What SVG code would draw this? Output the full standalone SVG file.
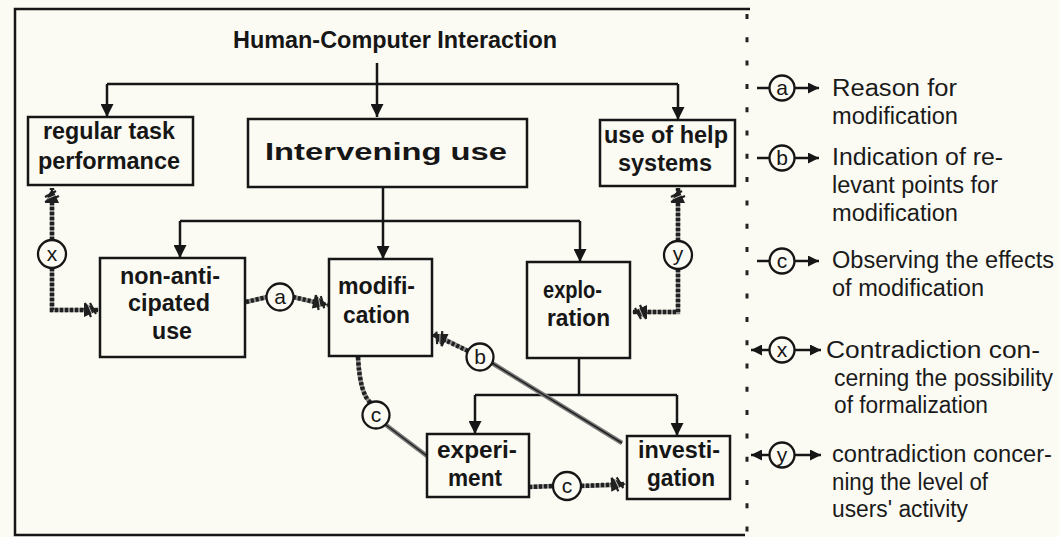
<svg xmlns="http://www.w3.org/2000/svg" width="1059" height="537" viewBox="0 0 1059 537">
<style>
.bx{fill:none;stroke:#161616;stroke-width:2.5}
.ln{fill:none;stroke:#161616;stroke-width:2.5}
.rb{fill:none;stroke:#8a8a8a;stroke-width:4.5}
.rp{fill:none;stroke:#202020;stroke-width:4.5;stroke-dasharray:3 2}
.dbl{fill:none;stroke:#7a7a7a;stroke-width:4.5}
.dbl2{fill:none;stroke:#222;stroke-width:1.5}
.ci{fill:#fbfbf4;stroke:#161616;stroke-width:2.3}
.ct{font-family:"Liberation Sans",Arial,sans-serif;font-size:21px;fill:#161616;text-anchor:middle}
.t{font-family:"Liberation Sans",Arial,sans-serif;font-weight:bold;font-size:23px;fill:#161616}
.l{font-family:"Liberation Sans",Arial,sans-serif;font-size:23px;fill:#1a1a1a}
</style>
<defs>
<marker id="ar" viewBox="0 0 13 13" refX="13" refY="6.5" markerWidth="13" markerHeight="13" markerUnits="userSpaceOnUse" orient="auto"><path d="M0,0 L13,6.5 L0,13 z" fill="#161616"/></marker>
<marker id="sa" viewBox="0 0 11 11" refX="11" refY="5.5" markerWidth="11" markerHeight="11" markerUnits="userSpaceOnUse" orient="auto"><path d="M0,0 L11,5.5 L0,11 z" fill="#161616"/></marker>
<marker id="hx" viewBox="0 0 18 18" refX="17" refY="9" markerWidth="18" markerHeight="18" markerUnits="userSpaceOnUse" orient="auto" overflow="visible"><path d="M2,2 L17,9 L2,16 z" fill="#202020" stroke="none"/><path d="M3,2 L9,16 M8,2 L14,13 M2,7 L5,14" fill="none" stroke="#202020" stroke-width="2.2"/><path d="M6,3.8 L10,13" fill="none" stroke="#bbb" stroke-width="1"/></marker>
</defs>
<rect x="0" y="0" width="1059" height="537" fill="#fbfbf4"/>
<g id="frame">
<path d="M750,9 L15,9 L15,535 L745,535" class="bx"/>
<line x1="747" y1="14" x2="747" y2="537" stroke="#222" stroke-width="3" stroke-dasharray="5 18.3"/>
</g>
<g id="title"><text class="t" x="233" y="48" font-size="21" textLength="324" lengthAdjust="spacingAndGlyphs">Human-Computer Interaction</text></g>

<g id="connectors">
<path class="ln" d="M377,63 L377,117" marker-end="url(#ar)"/>
<path class="ln" d="M107,84 L678,84"/>
<path class="ln" d="M107,84 L107,117" marker-end="url(#ar)"/>
<path class="ln" d="M678,84 L678,120" marker-end="url(#ar)"/>
<path class="ln" d="M383,187 L383,259" marker-end="url(#ar)"/>
<path class="ln" d="M180,221 L580,221"/>
<path class="ln" d="M180,221 L180,258" marker-end="url(#ar)"/>
<path class="ln" d="M580,221 L580,262" marker-end="url(#ar)"/>
<path class="ln" d="M579,358 L579,395"/>
<path class="ln" d="M475,395 L677,395"/>
<path class="ln" d="M475,395 L475,434" marker-end="url(#ar)"/>
<path class="ln" d="M677,395 L677,436" marker-end="url(#ar)"/>
<!-- x -->
<path class="rb" d="M52,240 L52,204"/><path class="rp" d="M52,240 L52,188" marker-end="url(#hx)"/>
<path class="rb" d="M52,268 L52,310 L84,310"/><path class="rp" d="M52,268 L52,310 L99,310" marker-end="url(#hx)"/>
<!-- y -->
<path class="rb" d="M678,241 L678,204"/><path class="rp" d="M678,241 L678,188" marker-end="url(#hx)"/>
<path class="rb" d="M678,269 L678,312 L646,312"/><path class="rp" d="M678,269 L678,312 L632,312" marker-end="url(#hx)"/>
<!-- a -->
<path class="rb" d="M246,302 L267,297"/><path class="rp" d="M246,302 L267,297"/>
<path class="rb" d="M293,297 L314,302"/><path class="rp" d="M293,297 L328,305" marker-end="url(#hx)"/>
<!-- b -->
<path class="dbl" d="M622,443 L492,363"/><path class="dbl2" d="M622,443 L492,363"/>
<path class="rb" d="M468,351 L446,340"/><path class="rp" d="M468,351 L432,334" marker-end="url(#hx)"/>
<!-- c1 -->
<path class="rb" d="M358,357 Q360,395 371,403"/><path class="rp" d="M358,357 Q360,395 371,403"/>
<path class="dbl" d="M386,425 L427,456"/><path class="dbl2" d="M386,425 L427,456"/>
<!-- c2 -->
<path class="rb" d="M529,487 L553,486"/><path class="rp" d="M529,487 L553,486"/>
<path class="rb" d="M581,486 L612,485"/><path class="rp" d="M581,486 L626,484" marker-end="url(#hx)"/>
</g>

<g id="n-regular"><rect class="bx" x="28" y="117" width="165" height="68"/>
<text class="t" x="43" y="139" textLength="132" lengthAdjust="spacingAndGlyphs">regular task</text>
<text class="t" x="38" y="169" textLength="142" lengthAdjust="spacingAndGlyphs">performance</text></g>
<g id="n-intervening"><rect class="bx" x="248" y="119" width="279" height="68"/>
<text class="t" x="265" y="160" font-size="36" textLength="242" lengthAdjust="spacingAndGlyphs">Intervening use</text></g>
<g id="n-help"><rect class="bx" x="600" y="120" width="135" height="66"/>
<text class="t" x="604" y="143" textLength="124" lengthAdjust="spacingAndGlyphs">use of help</text>
<text class="t" x="618" y="171" textLength="94" lengthAdjust="spacingAndGlyphs">systems</text></g>
<g id="n-nonanticipated"><rect class="bx" x="100" y="258" width="145" height="99"/>
<text class="t" x="120" y="284" textLength="100" lengthAdjust="spacingAndGlyphs">non-anti-</text>
<text class="t" x="128" y="311" textLength="82" lengthAdjust="spacingAndGlyphs">cipated</text>
<text class="t" x="152" y="339" textLength="40" lengthAdjust="spacingAndGlyphs">use</text></g>
<g id="n-modification"><rect class="bx" x="329" y="259" width="103" height="97"/>
<text class="t" x="338" y="294" textLength="77" lengthAdjust="spacingAndGlyphs">modifi-</text>
<text class="t" x="343" y="323" textLength="67" lengthAdjust="spacingAndGlyphs">cation</text></g>
<g id="n-exploration"><rect class="bx" x="527" y="262" width="103" height="96"/>
<text class="t" x="543" y="298" textLength="59" lengthAdjust="spacingAndGlyphs">explo-</text>
<text class="t" x="547" y="326" textLength="63" lengthAdjust="spacingAndGlyphs">ration</text></g>
<g id="n-experiment"><rect class="bx" x="427" y="434" width="102" height="63"/>
<text class="t" x="437" y="458" textLength="80" lengthAdjust="spacingAndGlyphs">experi-</text>
<text class="t" x="448" y="486" textLength="54" lengthAdjust="spacingAndGlyphs">ment</text></g>
<g id="n-investigation"><rect class="bx" x="627" y="436" width="103" height="63"/>
<text class="t" x="638" y="458" textLength="82" lengthAdjust="spacingAndGlyphs">investi-</text>
<text class="t" x="647" y="486" textLength="68" lengthAdjust="spacingAndGlyphs">gation</text></g>

<g id="labels">
<circle class="ci" cx="52" cy="254" r="14"/><text class="ct" x="52" y="261">x</text>
<circle class="ci" cx="678" cy="255" r="14"/><text class="ct" x="678" y="261">y</text>
<circle class="ci" cx="280" cy="297" r="13.5"/><text class="ct" x="280" y="304">a</text>
<circle class="ci" cx="480" cy="357" r="13.5"/><text class="ct" x="480" y="364">b</text>
<circle class="ci" cx="376" cy="415" r="13.5"/><text class="ct" x="376" y="422">c</text>
<circle class="ci" cx="567" cy="486" r="14"/><text class="ct" x="567" y="493">c</text>
</g>

<g id="legend">
<path class="ln" d="M757,88 L770,88"/><path class="ln" d="M794,88 L819,88" marker-end="url(#sa)"/>
<circle class="ci" cx="782" cy="88" r="12.5"/><text class="ct" x="782" y="95">a</text>
<text class="l" x="832" y="96" textLength="125" lengthAdjust="spacingAndGlyphs">Reason for</text>
<text class="l" x="832" y="124" textLength="126" lengthAdjust="spacingAndGlyphs">modification</text>

<path class="ln" d="M757,158 L770,158"/><path class="ln" d="M794,158 L819,158" marker-end="url(#sa)"/>
<circle class="ci" cx="782" cy="158" r="12.5"/><text class="ct" x="782" y="165">b</text>
<text class="l" x="832" y="165" textLength="171" lengthAdjust="spacingAndGlyphs">Indication of re-</text>
<text class="l" x="832" y="193" textLength="166" lengthAdjust="spacingAndGlyphs">levant points for</text>
<text class="l" x="832" y="221" textLength="126" lengthAdjust="spacingAndGlyphs">modification</text>

<path class="ln" d="M757,261 L770,261"/><path class="ln" d="M794,261 L819,261" marker-end="url(#sa)"/>
<circle class="ci" cx="782" cy="261" r="12.5"/><text class="ct" x="782" y="268">c</text>
<text class="l" x="832" y="268" textLength="222" lengthAdjust="spacingAndGlyphs">Observing the effects</text>
<text class="l" x="832" y="296" textLength="152" lengthAdjust="spacingAndGlyphs">of modification</text>

<path class="ln" d="M770,350 L751,350" marker-end="url(#sa)"/><path class="ln" d="M794,350 L821,350" marker-end="url(#sa)"/>
<circle class="ci" cx="782" cy="350" r="12.5"/><text class="ct" x="782" y="357">x</text>
<text class="l" x="826" y="358" textLength="214" lengthAdjust="spacingAndGlyphs">Contradiction con-</text>
<text class="l" x="834" y="386" textLength="219" lengthAdjust="spacingAndGlyphs">cerning the possibility</text>
<text class="l" x="834" y="413" textLength="154" lengthAdjust="spacingAndGlyphs">of formalization</text>

<path class="ln" d="M770,455 L751,455" marker-end="url(#sa)"/><path class="ln" d="M794,455 L821,455" marker-end="url(#sa)"/>
<circle class="ci" cx="782" cy="455" r="12.5"/><text class="ct" x="782" y="462">y</text>
<text class="l" x="832" y="462" textLength="220" lengthAdjust="spacingAndGlyphs">contradiction concer-</text>
<text class="l" x="832" y="490" textLength="156" lengthAdjust="spacingAndGlyphs">ning the level of</text>
<text class="l" x="832" y="517" textLength="136" lengthAdjust="spacingAndGlyphs">users' activity</text>
</g>
</svg>
